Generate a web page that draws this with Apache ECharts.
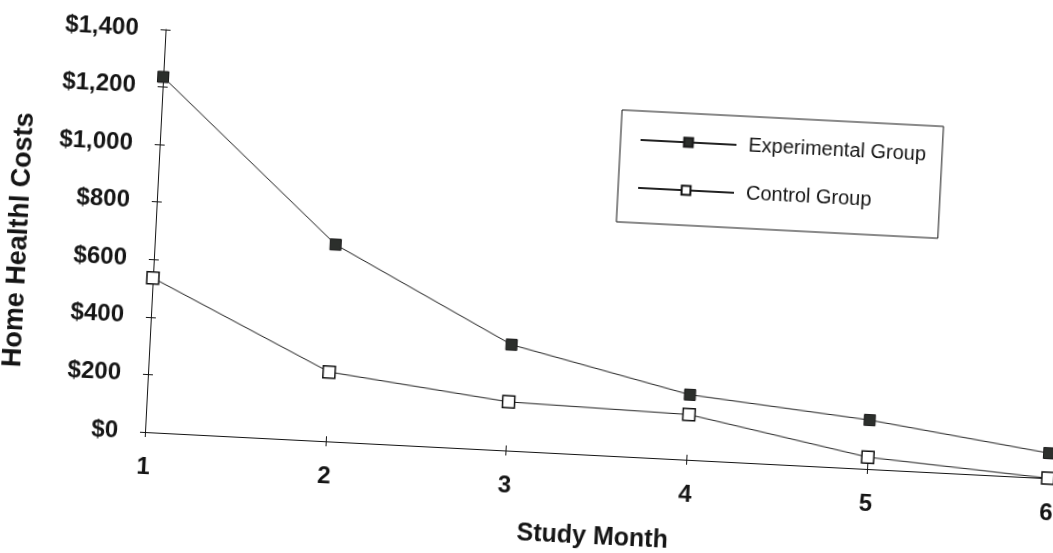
<!DOCTYPE html>
<html>
<head>
<meta charset="utf-8">
<script src="https://cdn.jsdelivr.net/npm/echarts@6/dist/echarts.min.js"></script>
<style>
  html, body { margin: 0; padding: 0; background: #fff; overflow: hidden; }
  body { width: 1053px; height: 553px; position: relative; }
  /* the printed page sits slightly askew; turn the whole chart about the axis origin */
  #chart {
    position: absolute; left: -50px; top: -30px;
    width: 1153px; height: 633px;
    transform-origin: 195px 462px;
    transform: rotate(2.93deg);
  }
</style>
</head>
<body>
<div id="chart"></div>
<script>
// Study months on the horizontal axis
const months = ['1', '2', '3', '4', '5', '6'];
// Average home health costs per month (dollars)
const experimentalGroup = [1235, 684, 368, 226, 170, 87];
const controlGroup = [536, 241, 169, 157, 41, 0];
// Cost axis range
const costMin = 0;
const costMax = 1400;
const costStep = 200;

const FONT = '"Liberation Sans", Arial, sans-serif';
const INK = '#151515';

const chart = echarts.init(document.getElementById('chart'), null, { renderer: 'canvas' });

const dollar = v => '$' + Number(v).toLocaleString('en-US');

chart.setOption({
  backgroundColor: '#ffffff',
  animation: false,
  grid: { left: 195, top: 59, width: 904, height: 403, containLabel: false },
  legend: {
    orient: 'vertical',
    left: 655, top: 116,
    padding: [18, 16, 24, 19],
    itemWidth: 96, itemHeight: 11, itemGap: 26,
    borderColor: INK, borderWidth: 1,
    backgroundColor: '#fff',
    textStyle: { fontFamily: FONT, fontSize: 20, lineHeight: 22, color: INK, padding: [0, 0, 0, 7] },
    data: ['Experimental Group', 'Control Group']
  },
  xAxis: [
    {
      type: 'category', data: months, boundaryGap: false,
      name: 'Study Month', nameLocation: 'middle', nameGap: 70,
      nameTextStyle: { fontFamily: FONT, fontSize: 25, fontWeight: 'bold', color: INK },
      axisLine: { lineStyle: { color: INK, width: 1 } },
      axisTick: { show: true, length: 5, lineStyle: { color: INK } },
      axisLabel: { margin: 23, fontFamily: FONT, fontSize: 24, fontWeight: 'bold', color: INK },
      splitLine: { show: false }
    },
    {
      type: 'category', data: months, boundaryGap: false, position: 'bottom',
      axisLine: { show: false },
      axisTick: { show: true, inside: true, length: 5, lineStyle: { color: INK } },
      axisLabel: { show: false },
      splitLine: { show: false }
    }
  ],
  yAxis: [
    {
      type: 'value', min: costMin, max: costMax, interval: costStep,
      name: 'Home Healthl Costs', nameLocation: 'middle', nameGap: 122,
      nameTextStyle: { fontFamily: FONT, fontSize: 27, fontWeight: 'bold', color: INK, padding: [0, 32, 0, 0] },
      axisLine: { show: true, lineStyle: { color: INK, width: 1 } },
      axisTick: { show: true, length: 5, lineStyle: { color: INK } },
      axisLabel: { margin: 27, fontFamily: FONT, fontSize: 24, fontWeight: 'bold', color: INK, formatter: dollar },
      splitLine: { show: false }
    },
    {
      type: 'value', min: costMin, max: costMax, interval: costStep, position: 'left',
      axisLine: { show: false },
      axisTick: { show: true, inside: true, length: 5, lineStyle: { color: INK } },
      axisLabel: { show: false },
      splitLine: { show: false }
    }
  ],
  series: [
    {
      name: 'Experimental Group', type: 'line', data: experimentalGroup,
      xAxisIndex: 0, yAxisIndex: 0,
      symbol: 'rect', symbolSize: 11, showAllSymbol: true,
      lineStyle: { color: '#222', width: 1 },
      itemStyle: { color: '#2c2f2c', borderColor: '#1a1a1a', borderWidth: 1 }
    },
    {
      name: 'Control Group', type: 'line', data: controlGroup,
      xAxisIndex: 0, yAxisIndex: 0,
      symbol: 'rect', symbolSize: 12, showAllSymbol: true,
      lineStyle: { color: '#222', width: 1 },
      itemStyle: { color: '#ffffff', borderColor: '#111', borderWidth: 1.5 }
    }
  ]
});
</script>
</body>
</html>
